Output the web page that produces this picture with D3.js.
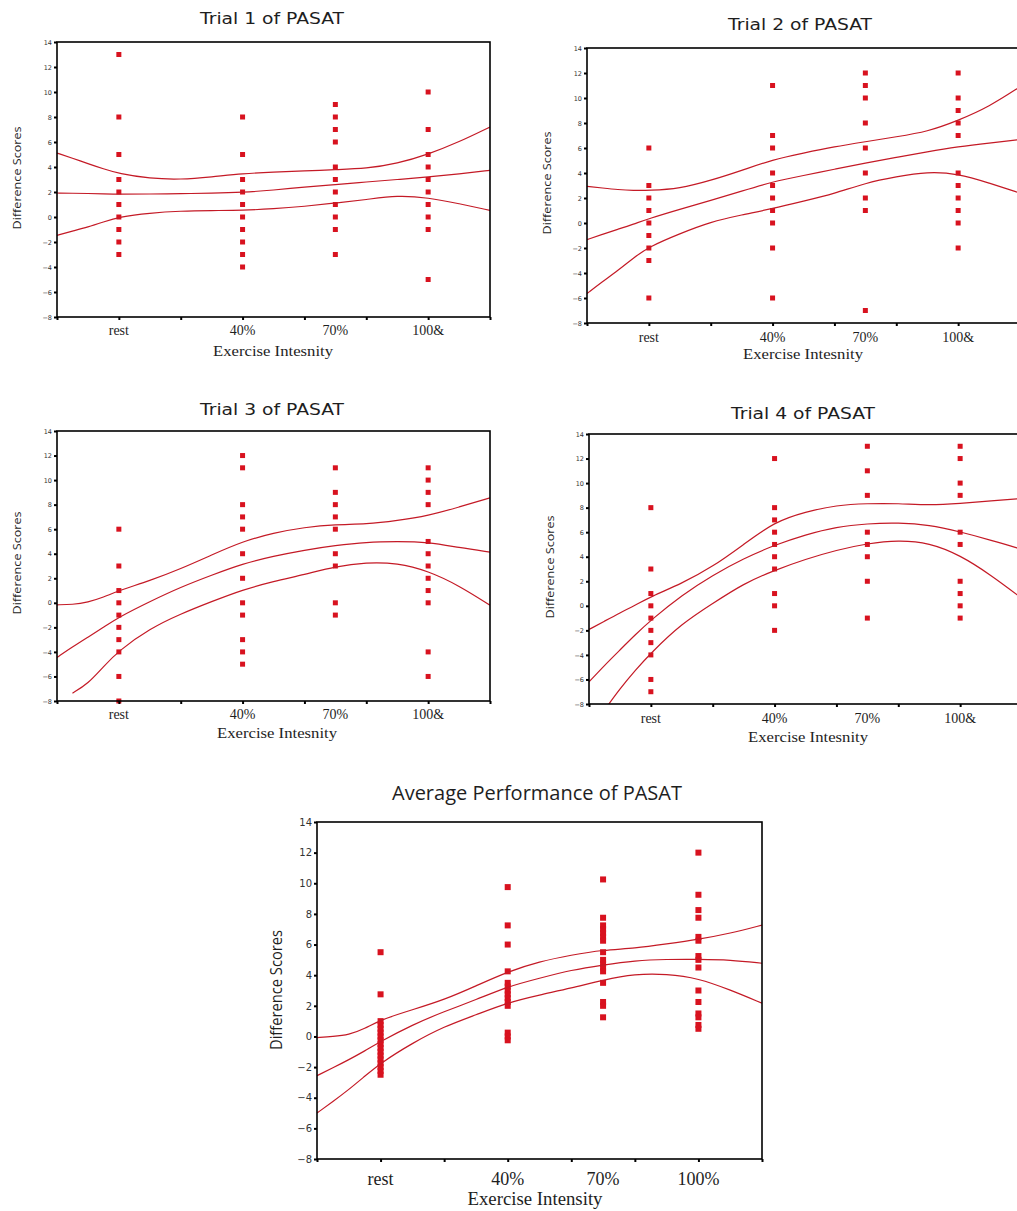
<!DOCTYPE html>
<html>
<head>
<meta charset="utf-8">
<title>PASAT difference scores by exercise intensity</title>
<script src="https://cdnjs.cloudflare.com/ajax/libs/d3/7.8.5/d3.min.js"></script>
<style>
  body { margin: 0; background: #fff; }
  svg text { fill: #1e1e1e; }
</style>
</head>
<body>
<svg id="chart" width="1017" height="1211"></svg>
<script>
// category labels and where they sit on the intensity axis
var categories = ["rest", "40%", "70%", "100&"];
var categoriesAvg = ["rest", "40%", "70%", "100%"];
var intensity = [0, 40, 70, 100];
var xTicks = [-20, 0, 20, 40, 60, 80, 100, 120];
var yTicks = [14, 12, 10, 8, 6, 4, 2, 0, -2, -4, -6, -8];

// difference scores per category (rest, 40%, 70%, 100%)
var trial1Points = [
  [13, 8, 5, 3, 2, 1, 0, -1, -2, -3],
  [8, 5, 3, 2, 1, 0, -1, -2, -3, -4],
  [9, 8, 7, 6, 4, 3, 2, 1, 0, -1, -3],
  [10, 7, 5, 4, 3, 2, 1, 0, -1, -5]
];
var trial2Points = [
  [6, 3, 2, 1, 0, -1, -2, -3, -6],
  [11, 7, 6, 4, 3, 2, 1, 0, -2, -6],
  [12, 11, 10, 8, 6, 4, 2, 1, -7],
  [12, 10, 9, 8, 7, 4, 3, 2, 1, 0, -2]
];
var trial3Points = [
  [6, 3, 1, 0, -1, -2, -3, -4, -6, -8],
  [12, 11, 8, 7, 6, 4, 2, 0, -1, -3, -4, -5],
  [11, 9, 8, 7, 6, 4, 3, 0, -1],
  [11, 10, 9, 8, 5, 4, 3, 2, 1, 0, -4, -6]
];
var trial4Points = [
  [8, 3, 1, 0, -1, -2, -3, -4, -6, -7],
  [12, 8, 7, 6, 5, 4, 3, 1, 0, -2],
  [13, 11, 9, 6, 5, 4, 2, -1],
  [13, 12, 10, 9, 6, 5, 2, 1, 0, -1]
];
var averagePoints = [
  [5.5, 2.75, 1, 0.75, 0.5, 0.25, 0, -0.25, -0.5, -0.75, -1, -1.25, -1.5, -1.75, -2, -2.25, -2.5],
  [9.75, 7.25, 6, 4.25, 3.5, 3.25, 3, 2.75, 2.5, 2.25, 2, 0.25, 0, -0.25],
  [10.25, 7.75, 7.25, 7, 6.75, 6.5, 6.25, 5.5, 5, 4.75, 4.5, 4.25, 3.5, 2.25, 2, 1.25],
  [12, 9.25, 8.25, 7.75, 6.5, 6.25, 5.25, 5, 4.5, 3, 2.25, 1.5, 1.25, 0.75, 0.5]
];

// fitted curve and its confidence band, read along the intensity axis
var fitX = [-20, -15, -10, -5, 0, 10, 20, 30, 40, 50, 60, 70, 80, 90, 100, 110, 120];

var trial1Upper = [5.12, 4.7, 4.27, 3.85, 3.47, 3.07, 2.99, 3.2, 3.47, 3.6, 3.68, 3.79, 3.87, 4.27, 5.01, 6.0, 7.2];
var trial1Mean = [1.92, 1.9, 1.88, 1.85, 1.82, 1.84, 1.87, 1.9, 1.97, 2.15, 2.4, 2.59, 2.8, 3.0, 3.2, 3.45, 3.73];
var trial1Lower = [-1.47, -1.13, -0.8, -0.4, 0, 0.32, 0.48, 0.52, 0.53, 0.65, 0.85, 1.12, 1.39, 1.73, 1.55, 1.07, 0.53];

var trial2Upper = [2.93, 2.8, 2.67, 2.6, 2.6, 2.75, 3.4, 4.2, 5.07, 5.6, 6.1, 6.5, 6.9, 7.3, 8.2, 9.3, 10.9];
var trial2Mean = [-1.33, -0.9, -0.5, -0.1, 0.35, 1.1, 1.8, 2.55, 3.3, 3.8, 4.3, 4.8, 5.25, 5.7, 6.1, 6.4, 6.67];
var trial2Lower = [-5.65, -4.7, -3.8, -2.8, -1.9, -0.85, 0.1, 0.65, 1.15, 1.75, 2.35, 3.2, 3.7, 4.1, 3.95, 3.2, 2.4];

var trial3Upper = [-0.16, -0.15, 0.05, 0.45, 1.0, 1.8, 2.77, 3.9, 5.0, 5.7, 6.15, 6.4, 6.4, 6.7, 7.1, 7.8, 8.55];
var trial3Mean = [-4.45, -3.6, -2.8, -2.0, -1.17, 0.1, 1.28, 2.25, 3.18, 3.8, 4.3, 4.67, 4.95, 5.0, 4.95, 4.5, 4.13];
var trial3Lower = [null, -7.36, -6.6, -5.2, -3.9, -2.1, -0.9, 0.1, 1.06, 1.75, 2.3, 2.96, 3.3, 3.25, 2.6, 1.4, -0.2];

var trial4Upper = [-1.93, -1.25, -0.57, 0.05, 0.75, 1.82, 3.18, 5.0, 6.85, 7.66, 8.2, 8.34, 8.34, 8.2, 8.34, 8.56, 8.75];
var trial4Mean = [-6.2, -4.85, -3.6, -2.35, -1.17, 0.87, 2.5, 3.86, 4.95, 5.8, 6.44, 6.7, 6.77, 6.6, 6.03, 5.35, 4.6];
var trial4Lower = [null, -8.5, -6.75, -5.24, -3.85, -1.44, 0.19, 1.82, 2.9, 3.8, 4.54, 5.08, 5.35, 5.14, 4.13, 2.5, 0.6];

var averageUpper = [-0.07, 0.0, 0.1, 0.5, 1.09, 1.74, 2.39, 3.3, 4.23, 4.89, 5.32, 5.65, 5.75, 6.04, 6.34, 6.73, 7.27];
var averageMean = [-2.56, -2.05, -1.52, -0.95, -0.33, 0.76, 1.63, 2.39, 3.26, 3.8, 4.34, 4.67, 4.95, 5.04, 5.04, 5.0, 4.78];
var averageLower = [-5.0, -4.25, -3.47, -2.6, -1.74, -0.43, 0.65, 1.41, 2.21, 2.71, 3.15, 3.69, 4.08, 4.08, 3.8, 3.04, 2.17];

var pointColor = "#d8121f";
var lineColor = "#c41a26";

// small panels share text sizes, the average panel is larger
var small = { title: 15, titleLen: 144, tick: 6.5, cat: 14, xTitle: 14, xTitleLen: 120, yLab: 11, yLabLen: 103, dot: 5 };
var big = { title: 20, titleLen: 290, tick: 10, cat: 18, xTitle: 18, xTitleLen: 135, yLab: 16, yLabLen: 120, dot: 6 };

var panels = [
  { id: "t1", title: "Trial 1 of PASAT", pts: trial1Points, fits: [trial1Upper, trial1Mean, trial1Lower], cats: categories,
    xTitle: "Exercise Intesnity", left: 57, right: 490, top: 42, bottom: 317,
    titleX: 272, titleY: 24, catY: 335, xTitleX: 273, xTitleY: 356, yLabX: 21, yLabY: 178, s: small },
  { id: "t2", title: "Trial 2 of PASAT", pts: trial2Points, fits: [trial2Upper, trial2Mean, trial2Lower], cats: categories,
    xTitle: "Exercise Intesnity", left: 587, right: 1020, top: 48, bottom: 323,
    titleX: 800, titleY: 30, catY: 342, xTitleX: 803, xTitleY: 359, yLabX: 551, yLabY: 183, s: small },
  { id: "t3", title: "Trial 3 of PASAT", pts: trial3Points, fits: [trial3Upper, trial3Mean, trial3Lower], cats: categories,
    xTitle: "Exercise Intesnity", left: 57, right: 490, top: 431, bottom: 701,
    titleX: 272, titleY: 415, catY: 719, xTitleX: 277, xTitleY: 738, yLabX: 21, yLabY: 563, s: small },
  { id: "t4", title: "Trial 4 of PASAT", pts: trial4Points, fits: [trial4Upper, trial4Mean, trial4Lower], cats: categories,
    xTitle: "Exercise Intesnity", left: 589, right: 1022, top: 434, bottom: 704,
    titleX: 803, titleY: 419, catY: 723, xTitleX: 808, xTitleY: 742, yLabX: 554, yLabY: 567, s: small },
  { id: "avg", title: "Average Performance of PASAT", pts: averagePoints, fits: [averageUpper, averageMean, averageLower], cats: categoriesAvg,
    xTitle: "Exercise Intensity", left: 317, right: 762, top: 822, bottom: 1159,
    titleX: 537, titleY: 800, catY: 1185, xTitleX: 535, xTitleY: 1205, yLabX: 282, yLabY: 990, s: big }
];

var svg = d3.select("#chart");

panels.forEach(function (p) {
  var s = p.s;
  var x = d3.scaleLinear().domain([-20, 120]).range([p.left, p.right]);
  var y = d3.scaleLinear().domain([-8, 14]).range([p.bottom, p.top]);
  var g = svg.append("g");

  svg.append("clipPath").attr("id", "clip-" + p.id)
    .append("rect")
    .attr("x", p.left).attr("y", p.top)
    .attr("width", p.right - p.left).attr("height", p.bottom - p.top);

  // title
  g.append("text")
    .attr("x", p.titleX).attr("y", p.titleY)
    .attr("text-anchor", "middle")
    .attr("textLength", s.titleLen).attr("lengthAdjust", "spacingAndGlyphs")
    .style("font-family", p.id == "avg" ? "'Open Sans', sans-serif" : "'DejaVu Sans', sans-serif")
    .style("font-size", s.title + "px")
    .text(p.title);

  // points
  p.pts.forEach(function (vals, i) {
    g.selectAll(null)
      .data(vals)
      .enter()
      .append("rect")
      .attr("x", x(intensity[i]) - s.dot / 2)
      .attr("y", function (d) { return y(d) - s.dot / 2; })
      .attr("width", s.dot).attr("height", s.dot)
      .attr("fill", pointColor);
  });

  // fitted lines
  var line = d3.line()
    .defined(function (d) { return d != null; })
    .x(function (d, i) { return x(fitX[i]); })
    .y(function (d) { return y(d); })
    .curve(d3.curveBasis);

  g.append("g").attr("clip-path", "url(#clip-" + p.id + ")")
    .selectAll("path")
    .data(p.fits)
    .enter()
    .append("path")
    .attr("d", line)
    .attr("fill", "none")
    .attr("stroke", lineColor)
    .attr("stroke-width", 1.2);

  // frame
  g.append("rect")
    .attr("x", p.left).attr("y", p.top)
    .attr("width", p.right - p.left).attr("height", p.bottom - p.top)
    .attr("fill", "none").attr("stroke", "#000").attr("stroke-width", 1.6);

  // x ticks (no labels, categories are written separately)
  var xa = g.append("g")
    .attr("transform", "translate(0," + p.bottom + ")")
    .call(d3.axisBottom(x).tickValues(xTicks).tickSize(3).tickFormat(""));
  xa.select(".domain").remove();
  xa.selectAll("line").attr("stroke-width", 2);

  // y ticks
  var ya = g.append("g")
    .attr("transform", "translate(" + p.left + ",0)")
    .call(d3.axisLeft(y).tickValues(yTicks).tickSize(3).tickPadding(2));
  ya.select(".domain").remove();
  ya.selectAll("line").attr("stroke-width", 2);
  ya.selectAll("text")
    .style("font-family", "'DejaVu Sans', sans-serif")
    .style("font-size", s.tick + "px")
    .style("fill", "#333");

  // category labels
  g.selectAll(null)
    .data(p.cats)
    .enter()
    .append("text")
    .attr("x", function (d, i) { return x(intensity[i]); })
    .attr("y", p.catY)
    .attr("text-anchor", "middle")
    .style("font-family", "'Liberation Serif', serif")
    .style("font-size", s.cat + "px")
    .text(function (d) { return d; });

  // axis titles
  g.append("text")
    .attr("x", p.xTitleX).attr("y", p.xTitleY)
    .attr("text-anchor", "middle")
    .attr("textLength", s.xTitleLen).attr("lengthAdjust", "spacingAndGlyphs")
    .style("font-family", "'Liberation Serif', serif")
    .style("font-size", s.xTitle + "px")
    .text(p.xTitle);

  g.append("text")
    .attr("transform", "translate(" + p.yLabX + "," + p.yLabY + ") rotate(-90)")
    .attr("text-anchor", "middle")
    .attr("textLength", s.yLabLen).attr("lengthAdjust", "spacingAndGlyphs")
    .style("font-family", "'Open Sans', sans-serif")
    .style("font-size", s.yLab + "px")
    .text("Difference Scores");
});
</script>
</body>
</html>
